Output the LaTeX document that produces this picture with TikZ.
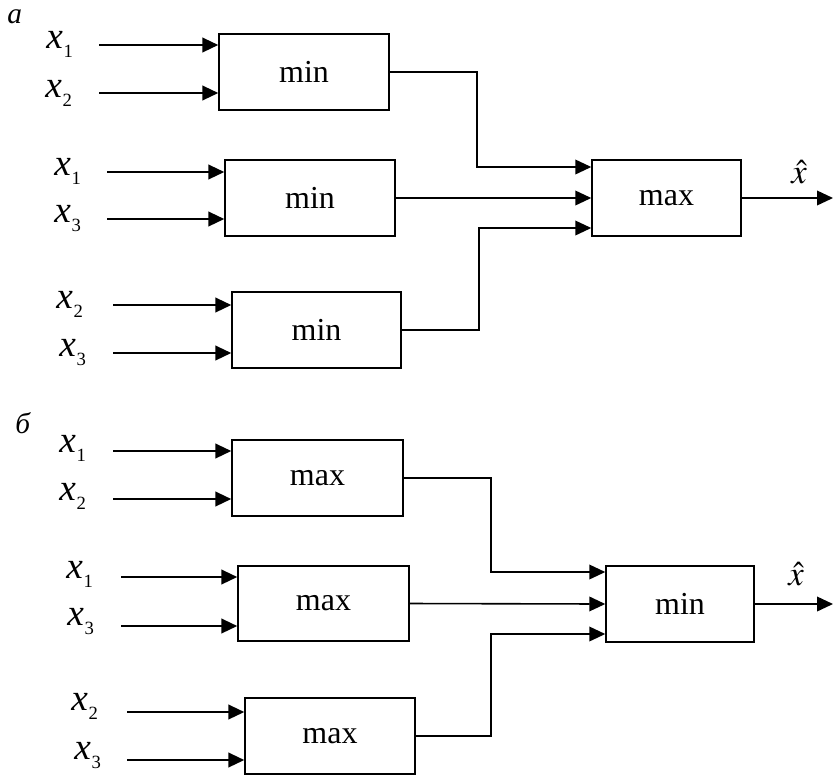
\documentclass[tikz,border=0pt]{standalone}
\usepackage{mathptmx}
\usepackage{fontspec}
\setmainfont{Liberation Serif}
\usetikzlibrary{arrows.meta,calc}
\newcommand{\xlab}[1]{\fontsize{28}{28}\selectfont\textit{x}\kern0.5pt\raisebox{-7pt}{\fontsize{14}{14}\selectfont #1}}
\tikzset{
  blk/.style={draw, line width=1.1pt, inner sep=0pt, font=\fontsize{24}{24}\selectfont},
  inarrow/.style={line width=1.6pt, -{Triangle[length=12pt,width=11pt]}},
  conn/.style={line width=1.1pt},
  connarrow/.style={line width=1.2pt, -{Triangle[length=12pt,width=11pt]}},
  lab/.style={anchor=base west, inner sep=0pt},
}
\begin{document}
\begin{tikzpicture}[x=0.75pt,y=-0.75pt]
\useasboundingbox (0,0) rectangle (834,776);
% part labels
\node[lab, font=\fontsize{22}{22}\selectfont\itshape] (pa) at (7,23) {а};
\node[lab, font=\fontsize{22}{22}\selectfont\itshape] (pb) at (15,433) {б};
% ---------- part a ----------
\node[blk, minimum width=127.5pt, minimum height=57pt] (a1) at (304,72) {min};
\node[blk, minimum width=127.5pt, minimum height=57pt] (a2) at (310,198) {min};
\node[blk, minimum width=126.75pt, minimum height=57pt] (a3) at (316.5,330) {min};
\node[blk, minimum width=111.75pt, minimum height=57pt] (am) at (666.5,198) {max};
% inputs
\coordinate (sa11) at (99,45);  \coordinate (sa12) at (99,93);
\coordinate (sa21) at (107,172); \coordinate (sa22) at (107,219);
\coordinate (sa31) at (113,305); \coordinate (sa32) at (113,353);
\draw[inarrow] (sa11) -- (sa11 -| a1.west);
\draw[inarrow] (sa12) -- (sa12 -| a1.west);
\draw[inarrow] (sa21) -- (sa21 -| a2.west);
\draw[inarrow] (sa22) -- (sa22 -| a2.west);
\draw[inarrow] (sa31) -- (sa31 -| a3.west);
\draw[inarrow] (sa32) -- (sa32 -| a3.west);
\node[lab] (la11) at (46,48) {\xlab{1}};
\node[lab] (la12) at (45,97) {\xlab{2}};
\node[lab] (la21) at (54,175) {\xlab{1}};
\node[lab] (la22) at (54,222) {\xlab{3}};
\node[lab] (la31) at (56,308) {\xlab{2}};
\node[lab] (la32) at (59,356) {\xlab{3}};
% connections to max
\coordinate (ami1) at ([yshift=23.25pt]am.west);
\coordinate (ami3) at ([yshift=-22.5pt]am.west);
\coordinate (ja1) at (477,0);
\coordinate (ja3) at (479,0);
\draw[connarrow] (a1.east) -| (ja1 |- ami1) -- (ami1);
\draw[connarrow] (a2.east) -- (am.west);
\draw[connarrow] (a3.east) -| (ja3 |- ami3) -- (ami3);
\coordinate (aout) at (833,198);
\draw[connarrow] (am.east) -- (aout);
\node[lab, font=\fontsize{26}{26}\selectfont] (ha) at (791,183) {$\hat{x}$};
% ---------- part b ----------
\node[blk, minimum width=128.25pt, minimum height=57pt] (b1) at (317.5,478) {max};
\node[blk, minimum width=128.25pt, minimum height=56.25pt] (b2) at (323.5,603.5) {max};
\node[blk, minimum width=127.5pt, minimum height=57pt] (b3) at (330,736) {max};
\node[blk, minimum width=111pt, minimum height=57pt] (bm) at (680,604) {min};
\coordinate (sb11) at (113,451); \coordinate (sb12) at (113,499);
\coordinate (sb21) at (121,577); \coordinate (sb22) at (121,626);
\coordinate (sb31) at (127,712); \coordinate (sb32) at (127,760);
\draw[inarrow] (sb11) -- (sb11 -| b1.west);
\draw[inarrow] (sb12) -- (sb12 -| b1.west);
\draw[inarrow] (sb21) -- (sb21 -| b2.west);
\draw[inarrow] (sb22) -- (sb22 -| b2.west);
\draw[inarrow] (sb31) -- (sb31 -| b3.west);
\draw[inarrow] (sb32) -- (sb32 -| b3.west);
\node[lab] (lb11) at (59,452) {\xlab{1}};
\node[lab] (lb12) at (59,500) {\xlab{2}};
\node[lab] (lb21) at (66,578) {\xlab{1}};
\node[lab] (lb22) at (67,625) {\xlab{3}};
\node[lab] (lb31) at (71,710) {\xlab{2}};
\node[lab] (lb32) at (74,759) {\xlab{3}};
\coordinate (bmi1) at ([yshift=24pt]bm.west);
\coordinate (bmi3) at ([yshift=-22.5pt]bm.west);
\coordinate (jb) at (491,0);
\draw[connarrow] (b1.east) -| (jb |- bmi1) -- (bmi1);
\draw[connarrow] (b2.east) -- (bm.west);
\draw[connarrow] (b3.east) -| (jb |- bmi3) -- (bmi3);
\coordinate (bout) at (833,604);
\draw[connarrow] (bm.east) -- (bout);
\node[lab, font=\fontsize{26}{26}\selectfont] (hb) at (788,585) {$\hat{x}$};
\end{tikzpicture}
\end{document}
